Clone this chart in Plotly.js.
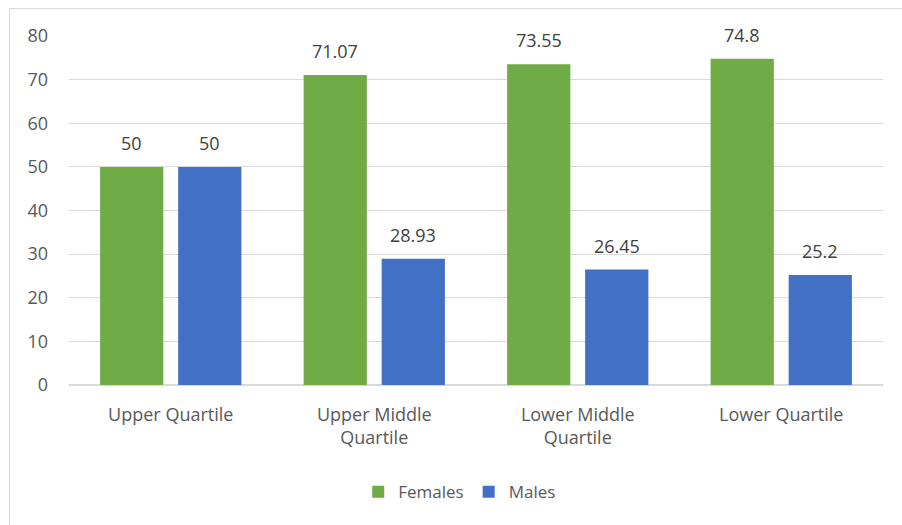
<!DOCTYPE html>
<html>
<head>
<meta charset="utf-8">
<script src="https://cdn.plot.ly/plotly-3.0.1.min.js"></script>
<style>
  html, body { margin: 0; padding: 0; background: #ffffff; overflow: hidden; }
  #frame { position: absolute; left: 9px; top: 8px; width: 1000px; height: 1000px; border: 1px solid #d9d9d9; box-sizing: border-box; }
  #chart { position: absolute; left: 0; top: 0; width: 902px; height: 525px; }
</style>
</head>
<body>
<div id="frame"></div>
<div id="chart"></div>
<script>
const categories = ["Upper Quartile", "Upper Middle<br>Quartile", "Lower Middle<br>Quartile", "Lower Quartile"];
const females = [50, 71.07, 73.55, 74.8];
const males = [50, 28.93, 26.45, 25.2];
const seriesNames = ["Females", "Males"];
const yTicks = [0, 10, 20, 30, 40, 50, 60, 70, 80];

const textColor = "#595959";
const fontFamily = "Open Sans, Noto Sans, sans-serif";

const traces = [
  { type: "bar", name: seriesNames[0], x: categories, y: females,
    marker: { color: "#6fac45", line: { width: 0 } }, hoverinfo: "skip" },
  { type: "bar", name: seriesNames[1], x: categories, y: males,
    marker: { color: "#4170c4", line: { width: 0 } }, hoverinfo: "skip" }
];

const annotations = [];
[females, males].forEach(function (vals, si) {
  vals.forEach(function (v, i) {
    annotations.push({
      x: categories[i], y: v, xref: "x", yref: "y",
      text: String(v), showarrow: false,
      xshift: si === 0 ? -39 : 39, yshift: 10, yanchor: "bottom",
      font: { family: fontFamily, size: 18, color: "#404040" }
    });
  });
});

const layout = {
  width: 902, height: 525,
  paper_bgcolor: "rgba(0,0,0,0)", plot_bgcolor: "rgba(0,0,0,0)",
  margin: { l: 69, r: 19, t: 36, b: 140 },
  font: { family: fontFamily, size: 18, color: textColor },
  barmode: "group", bargap: 0.233, bargroupgap: 0.19,
  showlegend: true,
  legend: { orientation: "h", x: 0.48, xanchor: "center", y: -0.307, yanchor: "middle",
            font: { family: fontFamily, size: 17, color: textColor }, itemwidth: 30, traceorder: "normal" },
  xaxis: { type: "category", showgrid: false, zeroline: false, showline: false, ticks: "",
           tickfont: { family: fontFamily, size: 18, color: textColor }, ticklabelstandoff: 17 },
  yaxis: { range: [0, 80], tickvals: yTicks, ticktext: yTicks.map(String), showgrid: true,
           gridcolor: "#d9d9d9", gridwidth: 1, zeroline: true, zerolinecolor: "#d9d9d9", zerolinewidth: 1.5,
           showline: false, ticks: "", ticklabelstandoff: 20,
           tickfont: { family: fontFamily, size: 18, color: textColor } },
  annotations: annotations
};

Plotly.newPlot("chart", traces, layout, { staticPlot: true, displayModeBar: false });
</script>
</body>
</html>
